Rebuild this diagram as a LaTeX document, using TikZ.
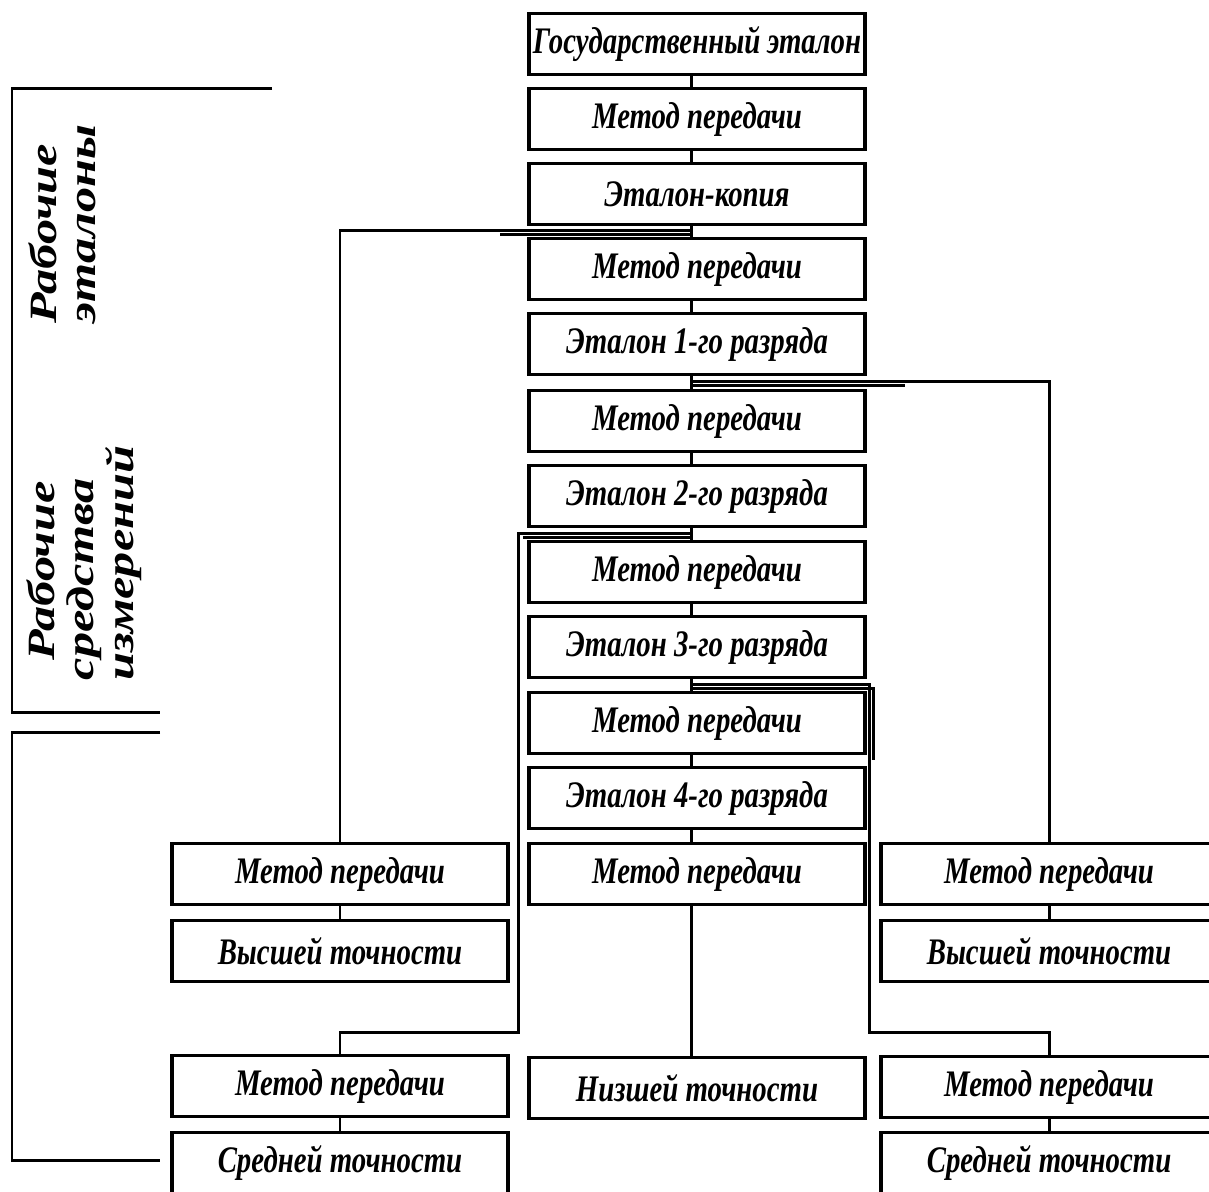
\documentclass[tikz,border=0pt]{standalone}
\usepackage{graphicx}
\usepackage{fontspec}
\setmainfont{Liberation Serif}
\newcommand\tallt[1]{\scalebox{1}[1.3]{#1}}
\tikzset{
  blk/.style={draw, line width=2pt, inner sep=0pt, minimum width=6.72cm,
    minimum height=1.22cm, fill=white,
    font=\bfseries\itshape\fontsize{16.4}{18}\selectfont},
  wire/.style={line width=1.7pt},
  thinwire/.style={line width=1.4pt},
  sidelabel/.style={rotate=90, inner sep=0pt,
    font=\bfseries\itshape\fontsize{22}{22.7}\selectfont}
}
\begin{document}
\begin{tikzpicture}[x=0.02cm, y=-0.02cm]
\useasboundingbox (0,0) rectangle (1209,1191);
\clip (0,0) rectangle (1209,1191);
\fill[white] (0,0) rectangle (1209,1191);

% spine of the central column
\coordinate (spine) at (691,0);

% central column
\foreach \n/\yy/\txt in {
  b1/44/{Государственный эталон},
  b2/119/{Метод передачи},
  b3/194/{Эталон-копия},
  b4/269/{Метод передачи},
  b5/344/{Эталон 1-го разряда},
  b6/421/{Метод передачи},
  b7/496/{Эталон 2-го разряда},
  b8/572/{Метод передачи},
  b9/647/{Эталон 3-го разряда},
  b10/723/{Метод передачи},
  b11/798/{Эталон 4-го разряда},
  b12/874/{Метод передачи}}
  \node[blk] (\n) at (697,\yy) {\tallt{\txt}};
\node[blk] (low) at (697,1088) {\tallt{Низшей точности}};

% left column
\node[blk] (l1) at (340,874)  {\tallt{Метод передачи}};
\node[blk] (l2) at (340,951)  {\tallt{Высшей точности}};
\node[blk] (l3) at (340,1086) {\tallt{Метод передачи}};
\node[blk] (l4) at (340,1163) {\tallt{Средней точности}};

% right column
\node[blk] (r1) at (1049,874)  {\tallt{Метод передачи}};
\node[blk] (r2) at (1049,951)  {\tallt{Высшей точности}};
\node[blk] (r3) at (1049,1087) {\tallt{Метод передачи}};
\node[blk] (r4) at (1049,1163) {\tallt{Средней точности}};

% links inside the central column
\foreach \a/\b in {b1/b2,b2/b3,b3/b4,b4/b5,b5/b6,b6/b7,b7/b8,b8/b9,b9/b10,b10/b11,b11/b12,b12/low}
  \draw[wire] (\a.south -| spine) -- (\b.north -| spine);

% links inside the side columns
\draw[wire] (l1) -- (l2);
\draw[wire] (l3) -- (l4);
\draw[wire] (r1) -- (r2);
\draw[wire] (r3) -- (r4);

% branch junctions on the spine
\coordinate (jA) at (691,230);
\coordinate (jB) at (691,381);
\coordinate (jC) at (691,533);
\coordinate (jD) at (691,684);
\coordinate (kC) at (518,1032);
\coordinate (kD) at (869,1032);

\draw[wire] (jA) -| (l1.north);
\draw[wire] (jB) -| (r1.north);
\draw[wire] (jC) -| (kC) -| (l3.north);
\draw[wire] (jD) -| (kD) -| (r3.north);

% doubled strokes next to the branch points
\draw[thinwire] (500,234.5) -- (jA |- 0,234.5);
\draw[thinwire] (jB |- 0,385.5) -- (905,385.5);
\draw[thinwire] (jC |- 0,537.5) -- (523,537.5);
\draw[thinwire] (jD |- 0,688.5) -| (873.5,760);

% brackets on the left
\draw[wire] (272,88) -- (12,88) -- (12,712) -- (160,712);
\draw[wire] (160,732) -- (12,732) -- (12,1160) -- (160,1160);

% bracket captions
\node[sidelabel] (cap1) at (68,224)
  {\scalebox{1.3}[1]{\begin{tabular}{@{}l@{}}Рабочие\\эталоны\end{tabular}}};
\node[sidelabel] (cap2) at (86,563)
  {\scalebox{1.3}[1]{\begin{tabular}{@{}l@{}}\hspace*{8.7pt}Рабочие\\средства\\измерений\end{tabular}}};
\end{tikzpicture}
\end{document}
